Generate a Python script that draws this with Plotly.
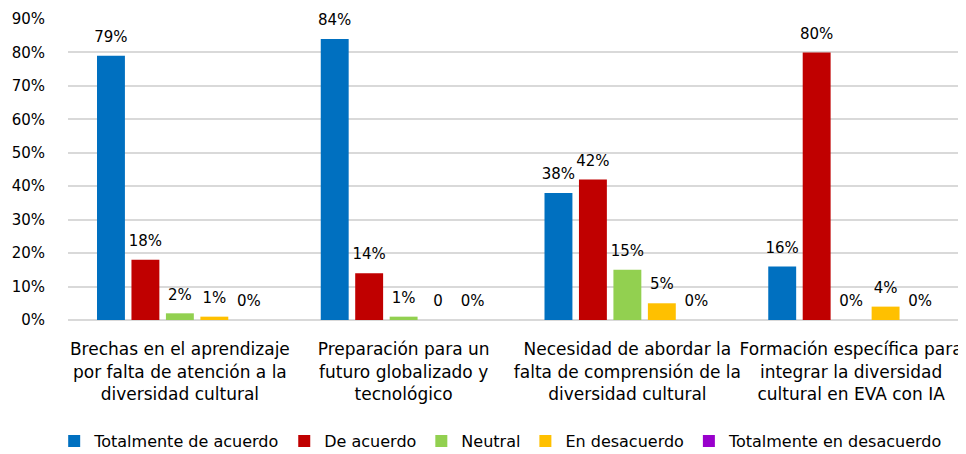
import plotly.graph_objects as go

categories = [
    "Brechas en el aprendizaje<br>por falta de atención a la<br>diversidad cultural",
    "Preparación para un<br>futuro globalizado y<br>tecnológico",
    "Necesidad de abordar la<br>falta de comprensión de la<br>diversidad cultural",
    "Formación específica para<br>integrar la diversidad<br>cultural en EVA con IA",
]
series_names = ["Totalmente de acuerdo", "De acuerdo", "Neutral", "En desacuerdo", "Totalmente en desacuerdo"]
totalmente_de_acuerdo = [0.79, 0.84, 0.38, 0.16]
de_acuerdo = [0.18, 0.14, 0.42, 0.80]
neutral = [0.02, 0.01, 0.15, 0.00]
en_desacuerdo = [0.01, 0.00, 0.05, 0.04]
totalmente_en_desacuerdo = [0.00, 0.00, 0.00, 0.00]
labels = [
    ["79%", "84%", "38%", "16%"],
    ["18%", "14%", "42%", "80%"],
    ["2%", "1%", "15%", "0%"],
    ["1%", "0", "5%", "4%"],
    ["0%", "0%", "0%", "0%"],
]
colors = ["#0070C0", "#C00000", "#92D050", "#FFC000", "#9900CC"]
values = [totalmente_de_acuerdo, de_acuerdo, neutral, en_desacuerdo, totalmente_en_desacuerdo]

FONT = "DejaVu Sans, Verdana, sans-serif"
LABEL_OFFSET = 0.03  # data-label gap above bar top (in axis units)

fig = go.Figure()
for i, (name, vals, col) in enumerate(zip(series_names, values, colors)):
    fig.add_trace(go.Bar(
        x=categories, y=vals, name=name, marker_color=col,
        marker_line_width=0, offsetgroup=str(i), alignmentgroup="a",
    ))
for i, (vals, txt) in enumerate(zip(values, labels)):
    fig.add_trace(go.Scatter(
        x=categories, y=[v + LABEL_OFFSET for v in vals], mode="text",
        text=txt, textposition="top center", showlegend=False, hoverinfo="skip",
        offsetgroup=str(i), alignmentgroup="a", cliponaxis=False,
        textfont=dict(size=15, color="#000000", family=FONT),
    ))

# page body has an 8px default margin, so the figure is offset and sized to fit the window
fig.update_layout(
    width=958, height=446,
    margin=dict(l=60, r=3, t=11, b=134),
    paper_bgcolor="white", plot_bgcolor="white",
    barmode="group", bargap=0.23, bargroupgap=0.19,
    scattermode="group", scattergap=0.23,
    font=dict(family=FONT, size=15, color="#000000"),
    showlegend=True,
    legend=dict(orientation="h", x=0.484, xanchor="center", xref="paper",
                y=0.029, yanchor="middle", yref="container",
                font=dict(size=16, family=FONT), itemwidth=30, tracegroupgap=0),
    xaxis=dict(tickfont=dict(size=17, family=FONT), tickangle=0, showgrid=False, showline=False,
               ticks="outside", ticklen=14, tickcolor="rgba(0,0,0,0)", automargin=False),
    yaxis=dict(range=[0, 0.9], dtick=0.1, tickformat=".0%", showgrid=True,
               gridcolor="#D9D9D9", gridwidth=1.5, zeroline=True, zerolinecolor="#D9D9D9",
               zerolinewidth=1.5, showline=False, ticks="outside", ticklen=19,
               tickcolor="rgba(0,0,0,0)", automargin=False,
               tickfont=dict(size=15, family=FONT)),
)

fig.write_html("out.html")
